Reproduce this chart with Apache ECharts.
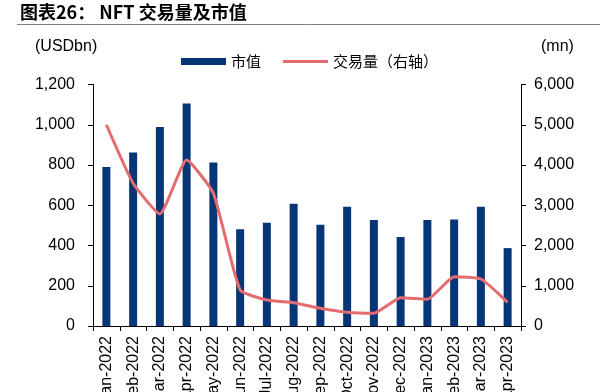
<!DOCTYPE html>
<html>
<head>
<meta charset="utf-8">
<script src="https://cdn.jsdelivr.net/npm/echarts@6/dist/echarts.min.js"></script>
<style>
html,body{margin:0;padding:0;background:#fff;}
#c{width:613px;height:392px;}
</style>
</head>
<body>
<div id="c"></div>
<script>
var categories = ['Jan-2022','Feb-2022','Mar-2022','Apr-2022','May-2022','Jun-2022','Jul-2022','Aug-2022','Sep-2022','Oct-2022','Nov-2022','Dec-2022','Jan-2023','Feb-2023','Mar-2023','Apr-2023'];
var marketCap = [790, 862, 989, 1105, 812, 481, 513, 607, 503, 592, 527, 442, 527, 529, 592, 387];
var volume = [5000, 3545, 2783, 4124, 3297, 894, 646, 580, 440, 340, 315, 703, 663, 1225, 1168, 589];
var leftTicks = {min: 0, max: 1200, interval: 200};
var rightTicks = {min: 0, max: 6000, interval: 1000};

function fmt(v){ return String(v).replace(/\B(?=(\d{3})+(?!\d))/g, ','); }

var chart = echarts.init(document.getElementById('c'), null, {renderer: 'canvas'});
var axisFont = {fontFamily: '"Liberation Sans", Arial, sans-serif', fontSize: 16, color: '#000'};
chart.setOption({
  animation: false,
  backgroundColor: '#fff',
  grid: {left: 93, right: 92, top: 84.5, bottom: 66, containLabel: false, outerBoundsMode: 'none'},
  legend: {
    left: 176, top: 49,
    itemWidth: 45, itemHeight: 7, itemGap: 22,
    textStyle: {fontFamily: '"Noto Sans CJK SC", sans-serif', fontSize: 15, color: '#000'},
    data: [
      {name: '市值', icon: 'rect'},
      {name: '交易量（右轴）', icon: 'path://M0,0 L45,0 L45,3 L0,3 Z', itemStyle: {color: '#e46c6e'}}
    ]
  },
  graphic: [
    {type: 'text', left: 20, top: 3, style: {text: '图表26： NFT 交易量及市值', font: 'bold 18px "Noto Sans CJK SC", sans-serif', fill: '#000'}},
    {type: 'line', shape: {x1: 17, y1: 24.5, x2: 600, y2: 24.5}, style: {stroke: '#7f7f7f', lineWidth: 1}},
    {type: 'text', left: 35, top: 39, style: {text: '(USDbn)', font: '16px "Liberation Sans", Arial, sans-serif', fill: '#000'}},
    {type: 'text', left: 541, top: 39, style: {text: '(mn)', font: '16px "Liberation Sans", Arial, sans-serif', fill: '#000'}}
  ],
  xAxis: {
    type: 'category',
    data: categories,
    boundaryGap: true,
    axisLine: {lineStyle: {color: '#000', width: 1}},
    axisTick: {show: true, alignWithLabel: false, length: 5, lineStyle: {color: '#000'}},
    axisLabel: Object.assign({rotate: 90, margin: 10, interval: 0, hideOverlap: false}, axisFont),
    splitLine: {show: false}
  },
  yAxis: [
    {
      type: 'value', position: 'left',
      min: leftTicks.min, max: leftTicks.max, interval: leftTicks.interval,
      axisLine: {show: true, lineStyle: {color: '#000'}},
      axisTick: {show: true, length: 5, lineStyle: {color: '#000'}},
      axisLabel: Object.assign({margin: 18, formatter: fmt}, axisFont),
      splitLine: {show: false}
    },
    {
      type: 'value', position: 'right',
      min: rightTicks.min, max: rightTicks.max, interval: rightTicks.interval,
      axisLine: {show: true, lineStyle: {color: '#000'}},
      axisTick: {show: true, length: 5, lineStyle: {color: '#000'}},
      axisLabel: Object.assign({margin: 13, formatter: fmt}, axisFont),
      splitLine: {show: false}
    }
  ],
  series: [
    {
      name: '市值', type: 'bar', yAxisIndex: 0,
      data: marketCap, barWidth: 8,
      itemStyle: {color: '#073677'}
    },
    {
      name: '交易量（右轴）', type: 'line', yAxisIndex: 1,
      data: volume, symbol: 'none', smooth: 0.15,
      lineStyle: {color: '#e46c6e', width: 3},
      itemStyle: {color: '#e46c6e'}
    }
  ]
});
</script>
</body>
</html>
